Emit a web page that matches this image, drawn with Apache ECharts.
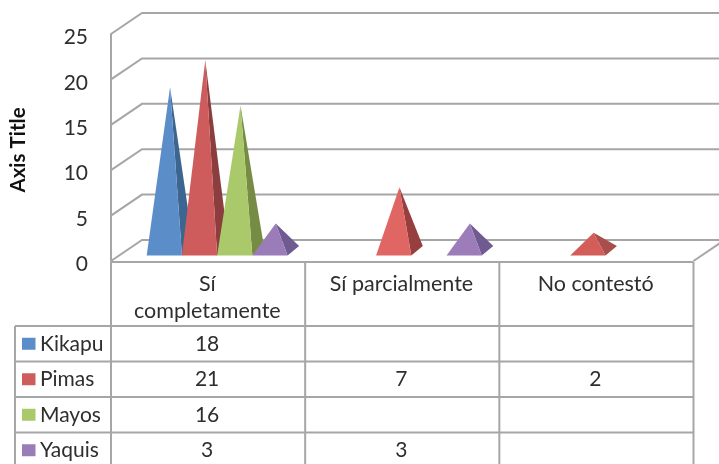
<!DOCTYPE html>
<html>
<head>
<meta charset="utf-8">
<style>html,body{margin:0;padding:0;background:#fff}#chart{width:719px;height:464px}</style>
<script src="https://cdn.jsdelivr.net/npm/echarts@6/dist/echarts.min.js"></script>
</head>
<body>
<div id="chart"></div>
<script>
// Survey answers per group
const categories = ['Sí\ncompletamente', 'Sí parcialmente', 'No contestó'];
const seriesNames = ['Kikapu', 'Pimas', 'Mayos', 'Yaquis'];
const kikapu = [18, null, null];
const pimas = [21, 7, 2];
const mayos = [16, null, null];
const yaquis = [3, 3, null];
const valueTicks = [0, 5, 10, 15, 20, 25];

// Face colours per series and category: front, right side
const frontColors = [
  ['#5B8DC8', '#5B8DC8', '#5B8DC8'],
  ['#CF5C5C', '#E06664', '#D35D58'],
  ['#AAC96A', '#AAC96A', '#AAC96A'],
  ['#9A7CB9', '#9C7DBA', '#9A7CB9']
];
const sideColors = [
  ['#3C6690', '#3C6690', '#3C6690'],
  ['#8C3E3E', '#973F3F', '#A94E4A'],
  ['#768C45', '#768C45', '#768C45'],
  ['#705A92', '#705A92', '#705A92']
];

const FONT = 'Lato';
const TEXT = '#2E2E2E';
const LINE = '#A6A6A6';
const FONT_SIZE = 21;

// Oblique projection of the 3D box
const WALL_DX = 31, WALL_DY = -21;
const MID_DX = 14.8, MID_DY = -10.2;
const BASE_DX = 5.75, BASE_DY = -4.7;
const BAR_SHARE = 0.1814;

// Data table layout
const tableRows = [262, 326, 361.5, 397, 432.5, 468];
const tableLeft = 15;

const allValues = [kikapu, pimas, mayos, yaquis];

function pyramidSeries(idx) {
  const data = [];
  allValues[idx].forEach(function (v, c) { if (v !== null) data.push([c, v]); });
  return {
    type: 'custom',
    name: seriesNames[idx],
    coordinateSystem: 'cartesian2d',
    z: 5 + idx,
    data: data,
    encode: { x: 0, y: 1 },
    renderItem: function (params, api) {
      const c = api.value(0), v = api.value(1);
      const top = api.coord([c, v]);
      const base = api.coord([c, 0]);
      const slot = api.size([1, 0])[0] * BAR_SHARE;
      const cx = top[0] + MID_DX + (idx - 1.5) * slot;
      const by = base[1] + MID_DY;
      const apex = [cx, top[1] + MID_DY];
      const fl = [cx - slot / 2 - BASE_DX, by - BASE_DY];
      const fr = [cx + slot / 2 - BASE_DX, by - BASE_DY];
      const br = [cx + slot / 2 + BASE_DX, by + BASE_DY];
      return {
        type: 'group',
        children: [
          { type: 'polygon', shape: { points: [fr, br, apex] }, style: { fill: sideColors[idx][c] } },
          { type: 'polygon', shape: { points: [fl, fr, apex] }, style: { fill: frontColors[idx][c] } }
        ]
      };
    }
  };
}

// Side wall, back wall and floor rules, one per value tick
const wallSeries = {
  type: 'custom',
  coordinateSystem: 'cartesian2d',
  z: 1,
  silent: true,
  data: valueTicks.map(function (t) { return [0, t]; }),
  encode: { x: 0, y: 1 },
  renderItem: function (params, api) {
    const cs = params.coordSys;
    const y = api.coord([0, api.value(1)])[1];
    const children = [{
      type: 'polyline',
      shape: { points: [[cs.x, y], [cs.x + WALL_DX, y + WALL_DY], [cs.x + cs.width + WALL_DX, y + WALL_DY]] },
      style: { stroke: LINE, lineWidth: 2, fill: 'none' }
    }];
    if (api.value(1) === 0) {
      children.push({
        type: 'line',
        shape: { x1: cs.x + cs.width, y1: y, x2: cs.x + cs.width + WALL_DX, y2: y + WALL_DY },
        style: { stroke: LINE, lineWidth: 2 }
      });
    }
    return { type: 'group', children: children };
  }
};

// Data table beneath the plot
const tableSeries = {
  type: 'custom',
  coordinateSystem: 'cartesian2d',
  z: 3,
  silent: true,
  data: [[0, 0]],
  encode: { x: 0, y: 1 },
  renderItem: function (params, api) {
    const cs = params.coordSys;
    const colW = cs.width / categories.length;
    const kids = [];
    const rule = function (x1, y1, x2, y2) {
      kids.push({ type: 'line', shape: { x1: x1, y1: y1, x2: x2, y2: y2 }, style: { stroke: LINE, lineWidth: 2 } });
    };
    const label = function (text, x, y, align) {
      kids.push({ type: 'text', style: { text: text, x: x, y: y, align: align, verticalAlign: 'middle', fontFamily: FONT, fontSize: FONT_SIZE, fill: TEXT } });
    };
    rule(cs.x, tableRows[0], cs.x + cs.width, tableRows[0]);
    for (let r = 1; r < tableRows.length; r++) rule(tableLeft, tableRows[r], cs.x + cs.width, tableRows[r]);
    rule(tableLeft, tableRows[1], tableLeft, tableRows[tableRows.length - 1]);
    for (let k = 0; k <= categories.length; k++) {
      rule(cs.x + k * colW, tableRows[0], cs.x + k * colW, tableRows[tableRows.length - 1]);
    }
    seriesNames.forEach(function (name, i) {
      const mid = (tableRows[i + 1] + tableRows[i + 2]) / 2;
      kids.push({ type: 'rect', shape: { x: 22, y: mid - 6, width: 13.5, height: 12 }, style: { fill: frontColors[i][0] } });
      label(name, 40, mid, 'left');
      allValues[i].forEach(function (v, c) {
        if (v !== null) label(String(v), api.coord([c, 0])[0] - 1, mid, 'center');
      });
    });
    return { type: 'group', children: kids };
  }
};

const chart = echarts.init(document.getElementById('chart'));
chart.setOption({
  animation: false,
  backgroundColor: '#ffffff',
  grid: { left: 110.5, top: 34, width: 583, height: 227, containLabel: false },
  xAxis: {
    type: 'category',
    data: categories,
    axisLine: { show: false },
    axisTick: { show: false },
    axisLabel: {
      interval: 0, margin: 10, fontFamily: FONT, fontSize: 21.5, color: TEXT,
      lineHeight: 27, verticalAlign: 'top', padding: [0, 1.5, 0, 0]
    }
  },
  yAxis: {
    type: 'value',
    min: 0, max: 25, interval: 5,
    name: 'Axis Title',
    nameLocation: 'middle',
    nameGap: 82,
    nameRotate: 90,
    nameTextStyle: { fontFamily: FONT, fontSize: 20.5, fontWeight: 'bold', color: '#111111', padding: [0, 5, 0, 0] },
    axisLine: { show: true, lineStyle: { color: LINE, width: 2 } },
    axisTick: { show: false },
    splitLine: { show: false },
    axisLabel: { margin: 23, fontFamily: FONT, fontSize: FONT_SIZE, color: TEXT, verticalAlign: 'top', lineHeight: 7 }
  },
  series: [wallSeries, tableSeries].concat(seriesNames.map(function (n, i) { return pyramidSeries(i); }))
});
</script>
</body>
</html>
